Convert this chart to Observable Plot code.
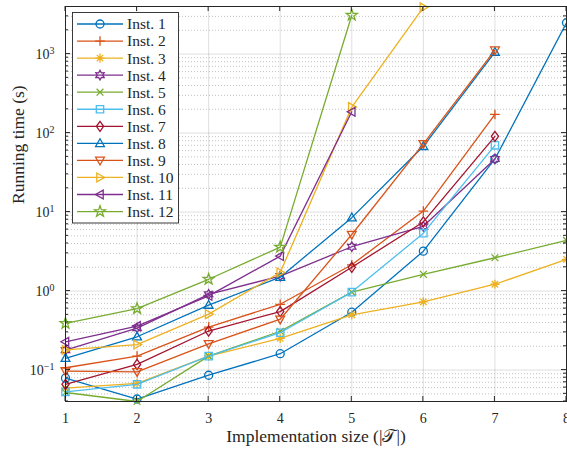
<!DOCTYPE html>
<html><head><meta charset="utf-8">
<script src="https://cdn.jsdelivr.net/npm/d3@7"></script>
<script src="https://cdn.jsdelivr.net/npm/@observablehq/plot@0.6"></script>
<style>
body{margin:0;background:#fff} svg{display:block}
svg, svg text { font-family: "Liberation Serif", "Times New Roman", "DejaVu Serif", serif !important; }
</style>
</head><body><div id="chart"></div>
<script>
// ---- data ----
const sizes = [1, 2, 3, 4, 5, 6, 7, 8];
const names = ["Inst. 1","Inst. 2","Inst. 3","Inst. 4","Inst. 5","Inst. 6","Inst. 7","Inst. 8","Inst. 9","Inst. 10","Inst. 11","Inst. 12"];
const inst1  = [0.079, 0.043, 0.086, 0.161, 0.54, 3.2, 47, 2490];
const inst2  = [0.107, 0.150, 0.35, 0.68, 2.15, 10.3, 172];
const inst3  = [0.059, 0.068, 0.150, 0.252, 0.50, 0.73, 1.22, 2.52];
const inst4  = [0.179, 0.34, 0.91, 1.55, 3.64, 6.6, 47];
const inst5  = [0.052, 0.040, 0.150, 0.31, 0.97, 1.63, 2.64, 4.38];
const inst6  = [0.053, 0.066, 0.150, 0.297, 0.97, 5.4, 70];
const inst7  = [0.066, 0.118, 0.312, 0.55, 2.0, 7.5, 91];
const inst8  = [0.141, 0.264, 0.665, 1.5, 8.5, 68, 1060];
const inst9  = [0.097, 0.095, 0.215, 0.44, 5.2, 73, 1120];
const inst10 = [0.18, 0.21, 0.51, 1.72, 213, 3900];
const inst11 = [0.228, 0.36, 0.87, 2.77, 186];
const inst12 = [0.39, 0.60, 1.41, 3.6, 3100];
const series = [inst1, inst2, inst3, inst4, inst5, inst6, inst7, inst8, inst9, inst10, inst11, inst12];
const colors = ["#0072BD","#D95319","#EDB120","#7E2F8E","#77AC30","#4DBEEE","#A2142F","#0072BD","#D95319","#EDB120","#7E2F8E","#77AC30"];
const markerNames = ["circle","plus","asterisk","hexagram","times","square","diamond","up","down","right","left","pentagram"];
const xTicks = [1, 2, 3, 4, 5, 6, 7, 8];
const yMajor = [0.1, 1, 10, 100, 1000];
const yMinor = [0.04,0.05,0.06,0.07,0.08,0.09, 0.2,0.3,0.4,0.5,0.6,0.7,0.8,0.9, 2,3,4,5,6,7,8,9, 20,30,40,50,60,70,80,90, 200,300,400,500,600,700,800,900, 2000,3000];
const xLabel = "Implementation size (|𝒯|)";
const yLabel = "Running time (s)";
const FONT = '"Liberation Serif", "Times New Roman", "DejaVu Serif", serif';

// ---- marker shapes (MATLAB-like) ----
function poly(c, pts){ c.moveTo(pts[0][0], pts[0][1]); for (let i = 1; i < pts.length; i++) c.lineTo(pts[i][0], pts[i][1]); c.closePath(); }
function star(c, n, ro, ri, rot){ const pts=[]; for(let i=0;i<2*n;i++){ const a=rot+Math.PI*i/n; const r=i%2?ri:ro; pts.push([r*Math.sin(a), -r*Math.cos(a)]);} poly(c, pts); }
const drawers = {
  circle:(c,R)=>{ c.moveTo(R,0); c.arc(0,0,R,0,2*Math.PI); c.closePath(); },
  plus:(c,R)=>{ const s=R*1.2; c.moveTo(-s,0); c.lineTo(s,0); c.moveTo(0,-s); c.lineTo(0,s); },
  times:(c,R)=>{ const s=R*0.85; c.moveTo(-s,-s); c.lineTo(s,s); c.moveTo(-s,s); c.lineTo(s,-s); },
  asterisk:(c,R)=>{ const s=R*1.15, t=R*0.8; c.moveTo(-s,0); c.lineTo(s,0); c.moveTo(0,-s); c.lineTo(0,s); c.moveTo(-t,-t); c.lineTo(t,t); c.moveTo(-t,t); c.lineTo(t,-t); },
  square:(c,R)=>{ const s=R*0.92; poly(c, [[-s,-s],[s,-s],[s,s],[-s,s]]); },
  diamond:(c,R)=>{ poly(c, [[0,-R*1.25],[R*0.9,0],[0,R*1.25],[-R*0.9,0]]); },
  up:(c,R)=>{ poly(c, [[0,-R*1.15],[R*1.1,R*0.8],[-R*1.1,R*0.8]]); },
  down:(c,R)=>{ poly(c, [[0,R*1.15],[R*1.1,-R*0.8],[-R*1.1,-R*0.8]]); },
  right:(c,R)=>{ poly(c, [[R*1.15,0],[-R*0.8,-R*1.1],[-R*0.8,R*1.1]]); },
  left:(c,R)=>{ poly(c, [[-R*1.15,0],[R*0.8,-R*1.1],[R*0.8,R*1.1]]); },
  pentagram:(c,R)=>{ star(c, 5, R*1.45, R*0.58, 0); },
  hexagram:(c,R)=>{ star(c, 6, R*1.2, R*0.68, 0); }
};
const symbols = markerNames.map(n => ({draw(ctx, size){ drawers[n](ctx, Math.sqrt(size/Math.PI)); }}));

// ---- build rows ----
const rows = series.map((vals, s) => vals.map((v, i) => ({x: sizes[i], y: v, s})));

const axisColor = "#262626";
const marks = [
  Plot.gridX({ticks: xTicks, stroke: axisColor, strokeOpacity: 0.15, strokeWidth: 1}),
  Plot.gridY({ticks: yMinor, stroke: axisColor, strokeOpacity: 0.28, strokeWidth: 1, strokeDasharray: "1,2"}),
  Plot.gridY({ticks: yMajor, stroke: axisColor, strokeOpacity: 0.15, strokeWidth: 1}),
  Plot.axisX({ticks: xTicks, tickSize: 0, tickPadding: 12, fontSize: 14, tickFormat: d => String(d), label: null}),
  Plot.axisY({ticks: yMajor, tickSize: 0, tickPadding: 11, fontSize: 14, tickFormat: d => "10^" + Math.round(Math.log10(d)), label: null}),
];
rows.forEach((data, s) => {
  marks.push(Plot.line(data, {x: "x", y: "y", stroke: colors[s], strokeWidth: 1.3}));
  marks.push(Plot.dot(data, {x: "x", y: "y", stroke: colors[s], fill: "none", strokeWidth: 1.3, r: 4, symbol: symbols[s]}));
});
marks.push(Plot.frame({stroke: axisColor, strokeWidth: 1}));
marks.push(Plot.text([xLabel], {frameAnchor: "bottom", dy: 40, fontSize: 17.5, fill: axisColor}));
marks.push(Plot.text([yLabel], {frameAnchor: "left", dx: -47, rotate: -90, fontSize: 17.5, fill: axisColor}));

const plot = Plot.plot({
  width: 567, height: 455,
  marginLeft: 65, marginRight: 1, marginTop: 6, marginBottom: 54,
  style: {fontFamily: FONT, background: "white", color: axisColor},
  x: {domain: [1, 8], axis: null},
  y: {type: "log", domain: [0.04, 4000], axis: null},
  marks
});
document.getElementById("chart").appendChild(plot);

// ---- post-processing: superscripts, inward ticks, legend ----
const svg = d3.select(plot);
svg.selectAll("text").attr("font-family", FONT);
svg.selectAll('g[aria-label="y-axis tick label"] text').each(function(){
  const t = d3.select(this); const txt = t.text();
  const m = txt.match(/^10\^(-?\d+)$/);
  if (!m) return;
  t.text("10");
  t.append("tspan").attr("dy", "-0.5em").attr("font-size", "10px").text(m[1].replace("-", "\u2212"));
});
const xs = plot.scale("x"), ys = plot.scale("y");
const L = 65, Rr = 566, T = 6, B = 401;
const tg = svg.append("g").attr("stroke", axisColor).attr("stroke-width", 1).attr("fill", "none");
xTicks.forEach(v => { const px = xs.apply(v); tg.append("path").attr("d", `M${px},${B}v-5M${px},${T}v5`); });
yMajor.forEach(v => { const py = ys.apply(v); tg.append("path").attr("d", `M${L},${py}h5M${Rr},${py}h-5`); });
yMinor.forEach(v => { const py = ys.apply(v); tg.append("path").attr("d", `M${L},${py}h3M${Rr},${py}h-3`); });

const lg = svg.append("g").attr("font-family", FONT).attr("font-size", 15.5).attr("text-anchor", "start");
lg.append("rect").attr("x", 72.5).attr("y", 12.5).attr("width", 106).attr("height", 210.5).attr("fill", "white").attr("stroke", axisColor).attr("stroke-width", 0.9);
names.forEach((n, i) => {
  const cy = 24 + i * 17.05;
  lg.append("line").attr("x1", 77).attr("x2", 123).attr("y1", cy).attr("y2", cy).attr("stroke", colors[i]).attr("stroke-width", 1.3);
  const p = d3.path(); symbols[i].draw(p, 16 * Math.PI);
  lg.append("path").attr("d", p.toString()).attr("transform", `translate(100,${cy})`).attr("fill", "none").attr("stroke", colors[i]).attr("stroke-width", 1.3);
  lg.append("text").attr("x", 127).attr("y", cy).attr("dy", "0.35em").attr("text-anchor", "start").attr("fill", axisColor).attr("font-family", FONT).text(n);
});
</script></body></html>
